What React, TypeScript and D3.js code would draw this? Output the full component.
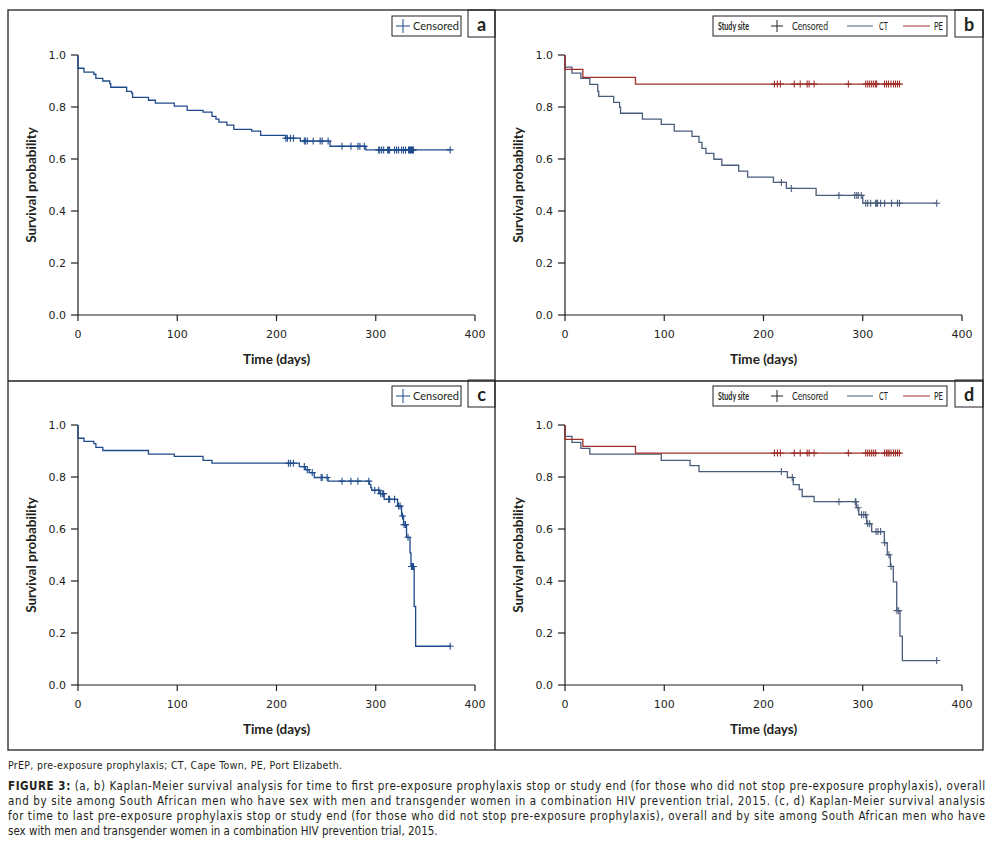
import * as d3 from 'd3';
import React from 'react';

// tick labels
const xTicks = [0, 100, 200, 300, 400];
const yTicks = [0, 0.2, 0.4, 0.6, 0.8, 1.0];

// panel a: overall, time to first PrEP stop
const aTimes = [0, 6, 16, 18, 25, 32, 33, 49, 54, 55, 71, 78, 97, 110, 126, 135, 139, 142, 150, 157, 175, 184, 209, 224, 254, 290];
const aSurv = [0.949, 0.934, 0.926, 0.910, 0.900, 0.890, 0.876, 0.860, 0.853, 0.837, 0.826, 0.815, 0.803, 0.787, 0.780, 0.764, 0.753, 0.742, 0.730, 0.714, 0.707, 0.691, 0.680, 0.669, 0.649, 0.635];
const aCensor = [209.5, 211, 214, 217, 228, 229, 231, 237, 244, 246, 252, 266, 275, 282, 284, 288.5, 303, 304, 306, 308, 312, 313, 314, 319, 321, 323, 326, 328, 330, 333, 334, 335, 336, 337, 338, 375];

// panel b: by site
const bCtTimes = [0, 7, 16, 25, 33, 34, 49, 55, 56, 78, 97, 110, 128, 135, 138, 142, 150, 158, 175, 184, 210, 223, 253, 300];
const bCtSurv = [0.953, 0.930, 0.910, 0.887, 0.860, 0.841, 0.818, 0.799, 0.776, 0.753, 0.733, 0.707, 0.687, 0.664, 0.641, 0.622, 0.599, 0.576, 0.553, 0.530, 0.510, 0.487, 0.460, 0.430];
const bCtCensor = [218, 228, 276, 292, 294, 295.5, 298.5, 303, 305, 308, 313, 314, 315, 318, 322, 329, 335, 337, 374.5];
const bPeTimes = [0, 18, 71];
const bPeSurv = [0.945, 0.914, 0.888];
const bPeCensor = [211, 214, 217, 231, 237, 244, 246, 251, 285.5, 303, 305, 307, 309, 311, 313, 314, 322, 324, 326, 328.5, 331, 333, 335, 337];

// panel c: overall, time to last PrEP stop
const cTimes = [0, 6, 16, 18, 25, 71, 97, 126, 135, 223, 229, 233, 238, 252, 293.5, 295, 296, 304, 308.5, 322, 326, 328, 331, 334.5, 335.5, 338.7, 340.2];
const cSurv = [0.949, 0.937, 0.928, 0.914, 0.902, 0.888, 0.879, 0.864, 0.853, 0.840, 0.828, 0.817, 0.798, 0.784, 0.772, 0.759, 0.749, 0.736, 0.714, 0.688, 0.650, 0.617, 0.568, 0.508, 0.456, 0.302, 0.149];
const cCensor = [212, 214, 217, 228, 231, 236, 245, 246, 251, 266, 275, 282, 293, 299, 303, 305, 307, 308, 313, 314, 319, 323, 324.5, 327, 328.5, 330, 332.5, 336, 337, 338, 375];

// panel d: by site
const dCtTimes = [0, 7, 16, 25, 97, 126, 135, 224, 230, 236, 239, 251, 293.5, 296, 304, 309, 321.7, 324.7, 327.8, 330.8, 334.2, 337.5, 339.9];
const dCtSurv = [0.956, 0.933, 0.910, 0.888, 0.864, 0.844, 0.821, 0.798, 0.771, 0.752, 0.725, 0.705, 0.682, 0.655, 0.620, 0.590, 0.547, 0.501, 0.456, 0.397, 0.286, 0.188, 0.094];
const dCtCensor = [218, 229, 276, 292.5, 293, 295.2, 298.8, 301, 303, 305, 307, 313.4, 315.4, 318, 322.1, 326.4, 328.5, 334.5, 336.2, 374.5];
const dPeTimes = [0, 18, 71];
const dPeSurv = [0.945, 0.918, 0.892];
const dPeCensor = [211, 214, 217, 231, 237, 244, 246, 251, 285.5, 303, 305, 307, 309, 311, 313, 322, 324, 325.5, 326.5, 328.5, 331, 333, 335, 337];

const BLUE = '#1f4b8c';
const CT = '#4b5d7c';
const PE = '#9e2f2a';
const INK = '#231f20';

interface Series {
    times: number[];
    surv: number[];
    censor: number[];
    color: string;
}

const captionLines = [
    'and by site among South African men who have sex with men and transgender women in a combination HIV prevention trial, 2015. (c, d) Kaplan-Meier survival analysis',
    'for time to last pre-exposure prophylaxis stop or study end (for those who did not stop pre-exposure prophylaxis), overall and by site among South African men who have',
    'sex with men and transgender women in a combination HIV prevention trial, 2015.',
];

function survAt(s: Series, t: number) {
    const i = d3.bisectRight(s.times, t) - 1;
    return i < 0 ? 1 : s.surv[i];
}

function KMPanel(props: { ox: number; oy: number; label: string; series: Series[]; bySite: boolean }) {
    const { ox, oy, label, series, bySite } = props;
    const x = d3.scaleLinear([0, 400], [ox + 70, ox + 467]);
    const y = d3.scaleLinear([0, 1], [oy + 305, oy + 45]);
    const line = d3.line<[number, number]>()
        .x(d => x(d[0]))
        .y(d => y(d[1]))
        .curve(d3.curveStepAfter);

    const paths = series.map((s, k) => {
        const last = d3.max(s.censor)!;
        const pts: [number, number][] = [[0, 1], ...s.times.map((t, i) => [t, s.surv[i]] as [number, number]), [last, s.surv[s.surv.length - 1]]];
        return (
            <g key={k}>
                <path d={line(pts)!} fill="none" stroke={s.color} strokeWidth={1.3} />
                {s.censor.map((t, i) => {
                    const cx = x(t), cy = y(survAt(s, t));
                    return <path key={i} d={`M${cx - 3.5},${cy}H${cx + 3.5}M${cx},${cy - 3.5}V${cy + 3.5}`} stroke={s.color} strokeWidth={1.1} fill="none" />;
                })}
            </g>
        );
    });

    const axisY = oy + 305;
    const axisX = ox + 70;
    return (
        <g>
            {/* axes */}
            <path d={`M${axisX},${y(1)}V${axisY}H${x(400)}`} stroke={INK} fill="none" strokeWidth={1.2} />
            {yTicks.map(v => (
                <g key={v}>
                    <line x1={axisX - 7} x2={axisX} y1={y(v)} y2={y(v)} stroke={INK} strokeWidth={1.2} />
                    <text x={axisX - 12} y={y(v) + 4} textAnchor="end" fontSize={11} fontFamily="DejaVu Sans" fill={INK}>{v.toFixed(1)}</text>
                </g>
            ))}
            {xTicks.map(v => (
                <g key={v}>
                    <line x1={x(v)} x2={x(v)} y1={axisY} y2={axisY + 6} stroke={INK} strokeWidth={1.2} />
                    <text x={x(v)} y={axisY + 23} textAnchor="middle" fontSize={11} fontFamily="DejaVu Sans" fill={INK}>{v}</text>
                </g>
            ))}
            <text transform={`translate(${ox + 28},${oy + 175}) rotate(-90)`} textAnchor="middle" fontSize={13.5} fontWeight="bold" fontFamily="Lato" fill={INK}>Survival probability</text>
            <text x={x(200)} y={oy + 354} textAnchor="middle" fontSize={13.5} fontWeight="bold" fontFamily="Lato" fill={INK}>Time (days)</text>
            {paths}
            {/* legend + label */}
            {bySite ? (
                <g fontFamily="Lato" fontSize={10.5} fill={INK}>
                    <rect x={ox + 218} y={oy + 6} width={234} height={20} fill="none" stroke={INK} strokeWidth={1} />
                    <text x={ox + 223} y={oy + 20} fontWeight="bold" textLength={31} lengthAdjust="spacingAndGlyphs">Study site</text>
                    <path d={`M${ox + 276},${oy + 16}h12M${ox + 282},${oy + 10}v12`} stroke={INK} strokeWidth={1} />
                    <text x={ox + 297} y={oy + 20} textLength={36} lengthAdjust="spacingAndGlyphs">Censored</text>
                    <line x1={ox + 352} x2={ox + 378} y1={oy + 16} y2={oy + 16} stroke={CT} strokeWidth={1} />
                    <text x={ox + 384} y={oy + 20} textLength={9} lengthAdjust="spacingAndGlyphs">CT</text>
                    <line x1={ox + 408} x2={ox + 435} y1={oy + 16} y2={oy + 16} stroke={PE} strokeWidth={1} />
                    <text x={ox + 439} y={oy + 20} textLength={9} lengthAdjust="spacingAndGlyphs">PE</text>
                    <rect x={ox + 460} y={oy} width={28} height={27} fill="none" stroke={INK} strokeWidth={1} />
                    <text x={ox + 474} y={oy + 21} textAnchor="middle" fontSize={18} fontWeight="bold">{label}</text>
                </g>
            ) : (
                <g fontFamily="Lato" fontSize={11} fill={INK}>
                    <rect x={ox + 384} y={oy + 6} width={69} height={20} fill="none" stroke={INK} strokeWidth={1} />
                    <path d={`M${ox + 388},${oy + 16}h14M${ox + 395},${oy + 9}v14`} stroke={BLUE} strokeWidth={1} />
                    <text x={ox + 405} y={oy + 20}>Censored</text>
                    <rect x={ox + 460} y={oy} width={27} height={27} fill="none" stroke={INK} strokeWidth={1} />
                    <text x={ox + 473.5} y={oy + 21} textAnchor="middle" fontSize={18} fontWeight="bold">{label}</text>
                </g>
            )}
        </g>
    );
}

export default function App() {
    const a: Series[] = [{ times: aTimes, surv: aSurv, censor: aCensor, color: BLUE }];
    const b: Series[] = [
        { times: bCtTimes, surv: bCtSurv, censor: bCtCensor, color: CT },
        { times: bPeTimes, surv: bPeSurv, censor: bPeCensor, color: PE },
    ];
    const c: Series[] = [{ times: cTimes, surv: cSurv, censor: cCensor, color: BLUE }];
    const d: Series[] = [
        { times: dCtTimes, surv: dCtSurv, censor: dCtCensor, color: CT },
        { times: dPeTimes, surv: dPeSurv, censor: dPeCensor, color: PE },
    ];
    const capFont = "'Liberation Sans Narrow', 'DejaVu Sans Condensed', sans-serif";
    return (
        <svg width={1001} height={853} style={{ position: 'absolute', left: 0, top: 0, background: '#fff' }}>
            <rect x={0} y={0} width={1001} height={853} fill="#fff" />
            {/* frame */}
            <rect x={8} y={10} width={975} height={740} fill="none" stroke={INK} strokeWidth={1.3} />
            <line x1={495} x2={495} y1={10} y2={750} stroke={INK} strokeWidth={1.3} />
            <line x1={8} x2={983} y1={381} y2={381} stroke={INK} strokeWidth={1.3} />
            <KMPanel ox={8} oy={10} label="a" series={a} bySite={false} />
            <KMPanel ox={495} oy={10} label="b" series={b} bySite={true} />
            <KMPanel ox={8} oy={380} label="c" series={c} bySite={false} />
            <KMPanel ox={495} oy={380} label="d" series={d} bySite={true} />
            {/* caption */}
            <g fontFamily={capFont} fill={INK} fontSize={11.5}>
                <text x={8} y={769} fontSize={10.5} textLength={334} lengthAdjust="spacing">PrEP, pre-exposure prophylaxis; CT, Cape Town, PE, Port Elizabeth.</text>
                <text x={8} y={790} textLength={977} lengthAdjust="spacing">
                    <tspan fontWeight="bold">FIGURE 3:</tspan> (a, b) Kaplan-Meier survival analysis for time to first pre-exposure prophylaxis stop or study end (for those who did not stop pre-exposure prophylaxis), overall
                </text>
                <text x={8} y={805} textLength={977} lengthAdjust="spacing">{captionLines[0]}</text>
                <text x={8} y={820} textLength={977} lengthAdjust="spacing">{captionLines[1]}</text>
                <text x={8} y={835}>{captionLines[2]}</text>
            </g>
        </svg>
    );
}
